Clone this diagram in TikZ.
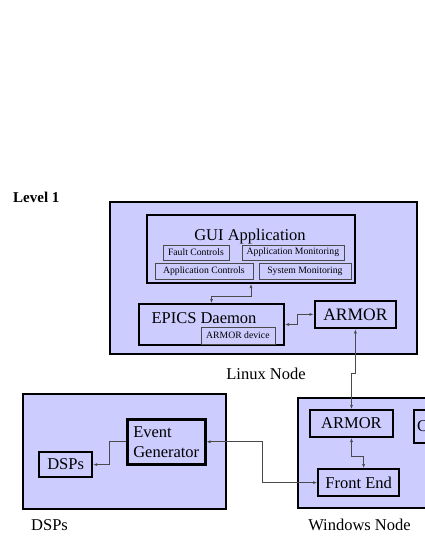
\documentclass[tikz,border=0pt]{standalone}
\usepackage{fontspec}
\setmainfont{Liberation Serif}
\usetikzlibrary{arrows.meta,positioning}
\definecolor{Lavender}{HTML}{CCCCFF}
\definecolor{Wire}{HTML}{4A4A4A}
\newcommand\bigtxt{\fontsize{16.5}{20}\selectfont}
\newcommand\smalltxt{\fontsize{9.7}{11}\selectfont}

\begin{document}
\begin{tikzpicture}[
    x=1pt,y=-1pt,
    box/.style={draw,fill=Lavender,line width=2pt,inner sep=0pt,anchor=north west,
      align=center,font=\bigtxt},
    outer/.style={box,line width=2.8pt},
    subbox/.style={draw=Wire,line width=0.8pt,inner sep=0pt,anchor=north west,
      align=center,font=\smalltxt},
    caption/.style={inner sep=0pt,anchor=base,font=\bigtxt},
    link/.style={{Latex[length=4pt,width=3pt]}-{Latex[length=4pt,width=3pt]},
      draw=Wire,line width=0.6pt},
    arrow/.style={-{Latex[length=4pt,width=3pt]},draw=Wire,line width=0.6pt}
  ]
  \useasboundingbox (0,0) rectangle (425,550);
  \clip (0,0) rectangle (425,550);
  \fill[white] (0,0) rectangle (425,550);

  \node[inner sep=0pt,anchor=base west,font=\fontsize{15}{18}\selectfont\bfseries] (level) at (13,202) {Level 1};

  % Linux node
  \node[outer,minimum width=307pt,minimum height=152pt] (linux) at (108.5,200.5) {};
  \node[box,minimum width=208pt,minimum height=68pt] (gui) at (146,214) {};
  \node[caption] (guitext) at (250,240) {GUI Application};
  \node[subbox,minimum width=66pt,minimum height=15pt] (fault) at (162.5,244.5) {Fault Controls};
  \node[subbox,minimum width=102pt,minimum height=15pt] (appmon) at (241.5,244.5) {Application Monitoring};
  \node[subbox,minimum width=98pt,minimum height=16pt] (appctl) at (154.5,262.5) {Application Controls};
  \node[subbox,minimum width=92pt,minimum height=16pt] (sysmon) at (258.5,262.5) {System Monitoring};
  \node[box,minimum width=145pt,minimum height=41pt] (epics) at (138,303) {};
  \node[caption] (epicstext) at (204,323) {EPICS Daemon};
  \node[subbox,minimum width=74pt,minimum height=17.5pt] (armordev) at (200.5,326.5) {ARMOR device};
  \node[box,line width=2.8pt,minimum width=81pt,minimum height=27pt,font=\fontsize{17.5}{20}\selectfont] (armorL) at (313.5,299.5) {ARMOR};
  \node[caption] (linuxtext) at (266,379) {Linux Node};

  % Windows node
  \node[outer,minimum width=200pt,minimum height=110pt] (windows) at (296.5,396.5) {};
  \node[box,minimum width=83pt,minimum height=27pt] (armorW) at (309,409) {ARMOR};
  \node[box,minimum width=60pt,minimum height=33pt,align=left,text width=54pt] (cbox) at (413,409) {C};
  \node[box,line width=2.2pt,minimum width=81pt,minimum height=27pt] (fe) at (317,468) {Front End};
  \node[caption] (wintext) at (359.5,530) {Windows Node};

  % DSPs
  \node[outer,minimum width=203pt,minimum height=115pt] (dspsys) at (21.5,392.5) {};
  \node[box,line width=2.5pt,minimum width=78pt,minimum height=45pt,align=left] (eg) at (126,418) {Event\\Generator};
  \node[box,line width=2.2pt,minimum width=53pt,minimum height=25pt] (dsp) at (38,451) {DSPs};
  \node[caption,anchor=base west] (dsptext) at (31,530) {DSPs};

  % connectors
  \draw[link] (epics.north) -- ++(0,-7) -| (gui.south);
  \draw[link] (epics.east) -- ++(12,0) |- (armorL.west);
  \draw[link] (armorL.south) -- ++(0,44) -| (armorW.north);
  \draw[link] (armorW.south) -- ++(0,18) -| ([xshift=5pt]fe.north);
  \draw[arrow] (eg.west) -- ++(-17,0) |- (dsp.east);
  \draw[link] (eg.east) -- ++(56,0) |- (fe.west);
\end{tikzpicture}
\end{document}
